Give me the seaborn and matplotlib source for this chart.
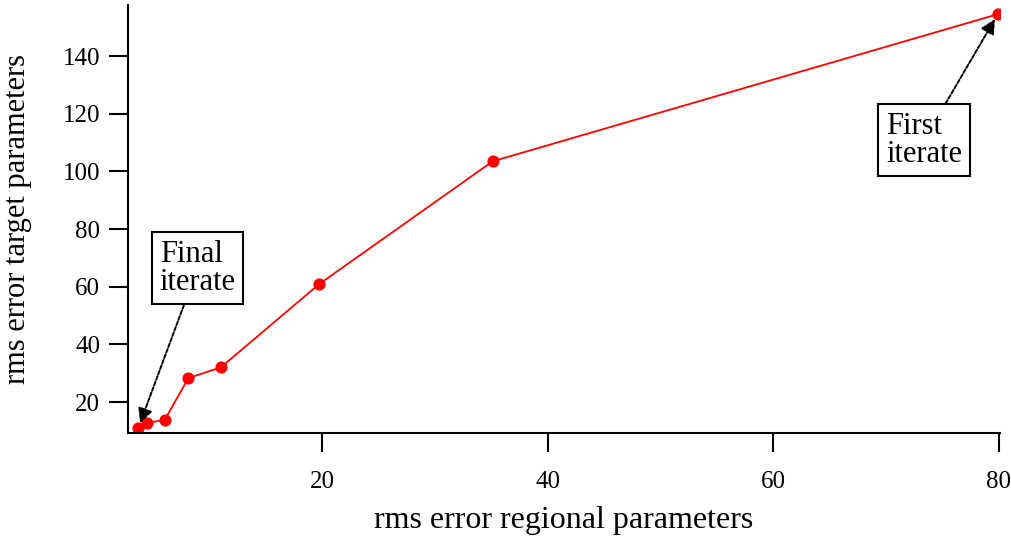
import matplotlib
matplotlib.use("Agg")
import matplotlib.pyplot as plt
import seaborn as sns
import pandas as pd

rms_regional = [3.65, 4.4, 6.0, 8.1, 11.0, 19.7, 35.1, 79.9]
rms_target = [10.9, 12.8, 13.8, 28.3, 32.1, 60.9, 103.5, 154.5]
x_ticks = [20, 40, 60, 80]
y_ticks = [20, 40, 60, 80, 100, 120, 140]

sns.set_theme(style="ticks")
plt.rcParams['font.family'] = ['Liberation Serif', 'DejaVu Serif']
plt.rcParams['text.color'] = 'black'
plt.rcParams['axes.labelcolor'] = 'black'

df = pd.DataFrame({"x": rms_regional, "y": rms_target})

fig = plt.figure(figsize=(10.11, 5.41), dpi=100)
ax = fig.add_axes([128/1011, 1 - 433/541, (1000-128)/1011, (433-5)/541])

sns.lineplot(data=df, x="x", y="y", ax=ax, color="red", lw=1.3,
             marker="o", markersize=8, markeredgecolor="red", sort=False)

ax.set_xlim(2.75, 80.1)
ax.set_ylim(9.3, 157.7)
ax.set_xticks(x_ticks)
ax.set_yticks(y_ticks)
ax.tick_params(axis="both", direction="out", length=14, width=1.5,
               labelsize=18, colors="black", pad=6)
ax.tick_params(axis="x", pad=13)
for s in ["top", "right"]:
    ax.spines[s].set_visible(False)
for s in ["left", "bottom"]:
    ax.spines[s].set_linewidth(1.5)
    ax.spines[s].set_color("black")

ax.set_xlabel("rms error regional parameters", fontsize=23, labelpad=10)
ax.set_ylabel("rms error target parameters", fontsize=22, labelpad=22)

bbox = dict(boxstyle="square,pad=0.25", fc="white", ec="black", lw=1.5)
ax.annotate("Final\niterate", xy=(rms_regional[0], rms_target[0]),
            xytext=(5.55, 66.4), fontsize=22, ha="left", va="center",
            bbox=bbox, linespacing=0.95,
            arrowprops=dict(arrowstyle="-|>", color="black", lw=1.4,
                            ls=(0, (2, 1)), shrinkA=0, shrinkB=4))
ax.annotate("First\niterate", xy=(rms_regional[-1], rms_target[-1]),
            xytext=(70.0, 110.8), fontsize=22, ha="left", va="center",
            bbox=bbox, linespacing=0.95,
            arrowprops=dict(arrowstyle="-|>", color="black", lw=1.4,
                            ls=(0, (2, 1)), shrinkA=0, shrinkB=4))

fig.savefig("out.png", dpi=100)
